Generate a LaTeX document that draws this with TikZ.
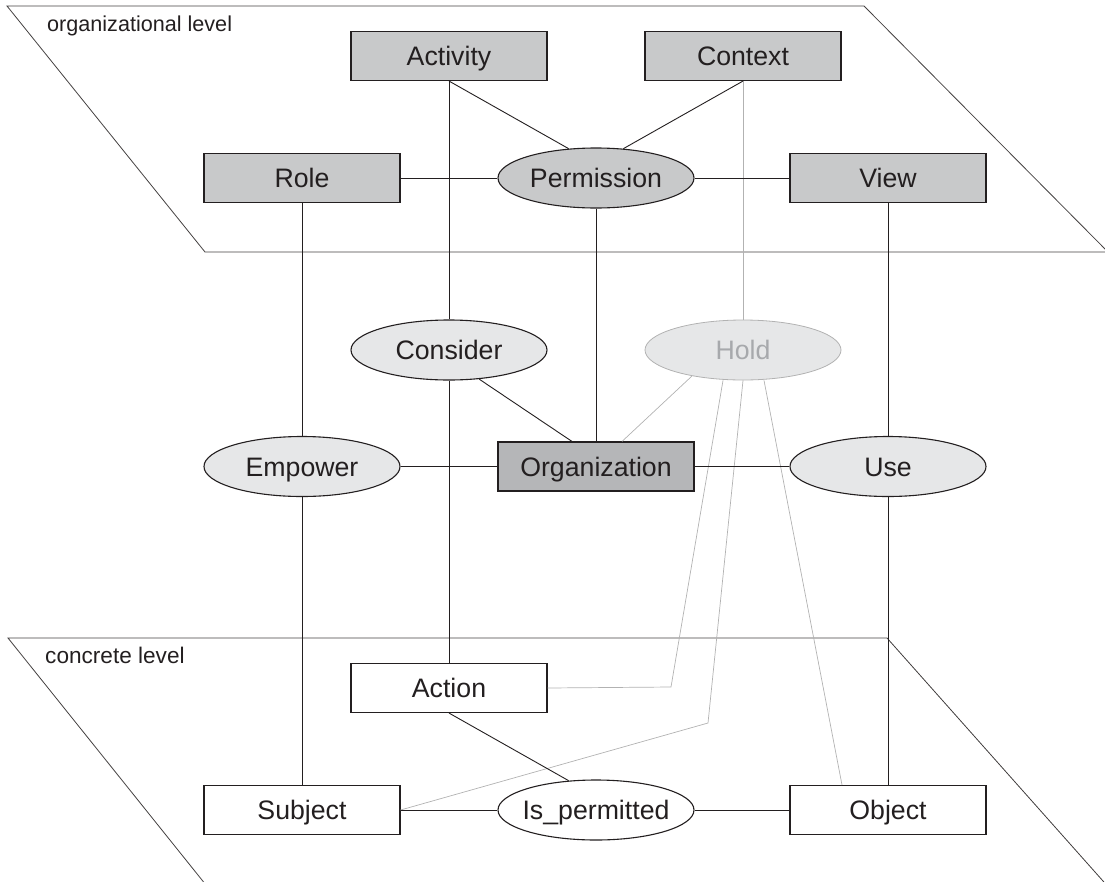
\documentclass[tikz,border=0pt]{standalone}
\usepackage{fontspec}
\setmainfont{Liberation Sans}
\usetikzlibrary{shapes.geometric,calc}
\definecolor{boxg}{HTML}{C8C9CA}
\definecolor{orgg}{HTML}{B5B6B8}
\definecolor{ellg}{HTML}{E6E7E8}
\definecolor{holdline}{HTML}{B2B2B2}
\definecolor{holdtext}{HTML}{A7A9AC}
\definecolor{ink}{HTML}{231F20}
\begin{document}
\begin{tikzpicture}[x=1pt,y=-1pt,
  every node/.style={font=\fontsize{26.7}{30}\selectfont, text=ink, text height=19.1pt, text depth=0pt},
  rbox/.style={draw=ink, line width=1.1pt, rectangle, minimum width=196pt, minimum height=49pt, inner sep=0pt},
  ell/.style={draw=ink, line width=1.1pt, ellipse, minimum width=196pt, minimum height=60pt, inner sep=0pt},
  conn/.style={draw=ink, line width=0.9pt},
  gconn/.style={draw=holdline, line width=0.7pt},
  plane/.style={draw=ink!85, line width=0.8pt},
  lvl/.style={anchor=base west, inner sep=0pt, text height=, text depth=}]
\useasboundingbox (0,0) rectangle (1105,881);
% planes
\draw[plane] (7,6) -- (864,6) -- (1108,252) -- (205,252) -- cycle;
\draw[plane] (8,638) -- (887,638) -- (1111,890) -- (210,890) -- cycle;
\node[lvl, font=\fontsize{21.6}{25}\selectfont] (orglvl) at (47,31) {organizational level};
\node[lvl, font=\fontsize{22.6}{25}\selectfont] (conlvl) at (45,663) {concrete level};
% organizational nodes
\node[rbox, fill=boxg] (activity) at (449,56) {Activity};
\node[rbox, fill=boxg] (context) at (743,56) {Context};
\node[rbox, fill=boxg] (role) at (302,178) {Role};
\node[ell, fill=boxg] (permission) at (596,178) {\makebox[0pt]{Permission}};
\node[rbox, fill=boxg] (view) at (888,178) {View};
% middle nodes
\node[ell, fill=ellg] (consider) at (449,350) {\makebox[0pt]{Consider}};
\node[ell, fill=ellg, draw=holdline, line width=0.8pt, text=holdtext] (hold) at (743,350) {\makebox[0pt]{Hold}};
\node[ell, fill=ellg] (empower) at (302,466.5) {\makebox[0pt]{Empower}};
\node[rbox, fill=orgg] (organization) at (596,466.5) {Organization};
\node[ell, fill=ellg] (use) at (888,466.5) {\makebox[0pt]{Use}};
% concrete nodes
\node[rbox, fill=white] (action) at (449,688) {Action};
\node[rbox, fill=white] (subject) at (302,810) {Subject};
\node[ell, fill=white] (ispermitted) at (596,810) {\makebox[0pt]{Is\_permitted}};
\node[rbox, fill=white] (object) at (888,810) {Object};
% hold connectors (gray)
\coordinate (b1) at (671,687);
\coordinate (b2) at (708,723);
\draw[gconn] (context.south) -- (hold.north);
\draw[gconn] (hold.-153) -- ($(organization.north)+(26,0)$);
\draw[gconn] ($(hold.south)+(-20,0)$) -- (b1) -- (action.east);
\draw[gconn] ($(hold.south)+(0,0)$) -- (b2) -- (subject.east);
\draw[gconn] ($(hold.south)+(21,0)$) -- ($(object.north)+(-46,0)$);
% black connectors
\draw[conn] (activity.south) -- (consider.north);
\draw[conn] (activity.south) -- (permission.133);
\draw[conn] (context.south) -- (permission.47);
\draw[conn] (role.east) -- (permission.west);
\draw[conn] (permission.east) -- (view.west);
\draw[conn] (role.south) -- (empower.north);
\draw[conn] (permission.south) -- (organization.north);
\draw[conn] (view.south) -- (use.north);
\draw[conn] (consider.-44) -- ($(organization.north)+(-24,0)$);
\draw[conn] (empower.east) -- (organization.west);
\draw[conn] (organization.east) -- (use.west);
\draw[conn] (consider.south) -- (action.north);
\draw[conn] (empower.south) -- (subject.north);
\draw[conn] (use.south) -- (object.north);
\draw[conn] (action.south) -- (ispermitted.133);
\draw[conn] (subject.east) -- (ispermitted.west);
\draw[conn] (ispermitted.east) -- (object.west);
\end{tikzpicture}
\end{document}
